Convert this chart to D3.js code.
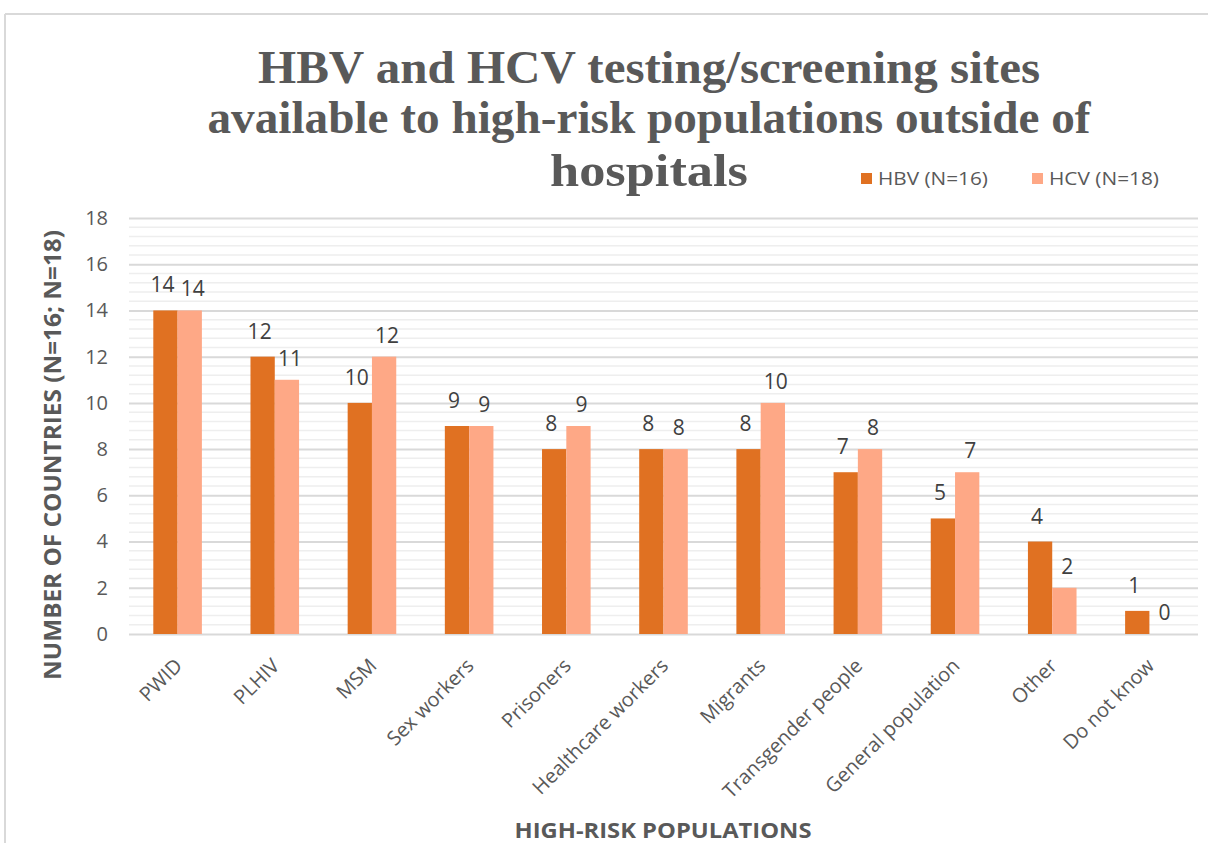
<!DOCTYPE html>
<head>
<meta charset="utf-8">
<title>HBV and HCV testing sites</title>
<script src="https://cdn.jsdelivr.net/npm/d3@7"></script>
<style>
body { margin: 0; background: #fff; }
text { font-family: "Open Sans", sans-serif; }
</style>
</head>
<body>
<script>
// data
var categories = ["PWID", "PLHIV", "MSM", "Sex workers", "Prisoners", "Healthcare workers",
  "Migrants", "Transgender people", "General population", "Other", "Do not know"];
var seriesNames = ["HBV (N=16)", "HCV (N=18)"];
var hbv = [14, 12, 10, 9, 8, 8, 8, 7, 5, 4, 1];
var hcv = [14, 11, 12, 9, 9, 8, 10, 8, 7, 2, 0];
var yTicks = [0, 2, 4, 6, 8, 10, 12, 14, 16, 18];
var titleLines = ["HBV and HCV testing/screening sites",
  "available to high-risk populations outside of", "hospitals"];

var width = 1208, height = 843;
var colors = ["#e07122", "#fea886"];
var grey = "#595959";

var svg = d3.select("body").append("svg")
  .attr("width", width)
  .attr("height", height);

// chart frame (only top and left edges visible)
svg.append("line").attr("x1", 5).attr("x2", width).attr("y1", 14).attr("y2", 14)
  .attr("stroke", "#d9d9d9").attr("stroke-width", 2);
svg.append("line").attr("x1", 5).attr("x2", 5).attr("y1", 14).attr("y2", height)
  .attr("stroke", "#d9d9d9").attr("stroke-width", 2);

var x0 = d3.scaleBand().domain(categories).range([129, 1198])
  .paddingInner(0.5).paddingOuter(0.25);
var x1 = d3.scaleBand().domain(seriesNames).range([0, x0.bandwidth()]);
var y = d3.scaleLinear().domain([0, 18]).range([634, 218]);

// minor gridlines every 0.4
var minor = d3.range(0, 18.01, 0.4).filter(function(v) { return Math.abs(v / 2 - Math.round(v / 2)) > 0.01; });
svg.append("g").selectAll("line").data(minor).enter().append("line")
  .attr("x1", 129).attr("x2", 1198)
  .attr("y1", function(d) { return y(d); }).attr("y2", function(d) { return y(d); })
  .attr("stroke", "#eeeeee").attr("stroke-width", 1.5);

// major gridlines + tick labels via axis
var yAxis = svg.append("g").attr("transform", "translate(129,0)")
  .call(d3.axisLeft(y).tickValues(yTicks).tickSize(-1069).tickPadding(21));
yAxis.select(".domain").remove();
yAxis.selectAll(".tick line").attr("stroke", "#d9d9d9").attr("stroke-width", 2);
yAxis.selectAll(".tick text").attr("fill", grey).style("font-size", "20px")
  .style("font-family", "'Open Sans', sans-serif");

// bars
var groups = svg.append("g").selectAll("g").data(categories).enter().append("g")
  .attr("transform", function(d) { return "translate(" + x0(d) + ",0)"; });
var series = [hbv, hcv];
groups.selectAll("rect").data(function(d, i) {
    return seriesNames.map(function(s, j) { return {s: s, v: series[j][i], j: j}; });
  }).enter().append("rect")
  .attr("x", function(d) { return x1(d.s); })
  .attr("width", x1.bandwidth())
  .attr("y", function(d) { return y(d.v); })
  .attr("height", function(d) { return y(0) - y(d.v); })
  .attr("fill", function(d) { return colors[d.j]; });

// value labels (nudged apart a little like the original)
groups.selectAll("text.val").data(function(d, i) {
    return seriesNames.map(function(s, j) { return {s: s, v: series[j][i], j: j}; });
  }).enter().append("text").attr("class", "val")
  .attr("x", function(d) { return x1(d.s) + x1.bandwidth() / 2 + (d.j ? 3 : -3); })
  .attr("y", function(d) { return y(d.v) - (d.j ? 14 : 18); })
  .attr("text-anchor", "middle")
  .attr("fill", "#404040").style("font-size", "21px")
  .text(function(d) { return d.v; });

// category labels
svg.append("g").selectAll("text").data(categories).enter().append("text")
  .attr("transform", function(d) {
    return "translate(" + (x0(d) + x0.bandwidth() / 2 + 1) + ",662) rotate(-45)";
  })
  .attr("text-anchor", "end")
  .attr("dy", "0.35em")
  .attr("fill", grey).style("font-size", "20px")
  .text(function(d) { return d; });

// title
var titleY = [83, 133, 186];
var titleW = [782, 883, 198];
svg.append("g").selectAll("text").data(titleLines).enter().append("text")
  .attr("x", 649).attr("y", function(d, i) { return titleY[i]; })
  .attr("text-anchor", "middle")
  .attr("textLength", function(d, i) { return titleW[i]; })
  .attr("lengthAdjust", "spacingAndGlyphs")
  .attr("fill", grey)
  .style("font-family", "'Liberation Serif', serif")
  .style("font-weight", "bold").style("font-size", "46px")
  .text(function(d) { return d; });

// legend
var legendX = [861, 1032];
var legend = svg.append("g").selectAll("g").data(seriesNames).enter().append("g")
  .attr("transform", function(d, i) { return "translate(" + legendX[i] + ",173)"; });
legend.append("rect").attr("width", 11).attr("height", 11)
  .attr("fill", function(d, i) { return colors[i]; });
legend.append("text").attr("x", 17).attr("y", 6).attr("dy", "0.35em")
  .attr("textLength", 110).attr("lengthAdjust", "spacingAndGlyphs")
  .attr("fill", grey).style("font-size", "18px")
  .text(function(d) { return d; });

// axis titles
svg.append("text")
  .attr("transform", "translate(61,455) rotate(-90)")
  .attr("text-anchor", "middle")
  .attr("textLength", 450).attr("lengthAdjust", "spacingAndGlyphs")
  .attr("fill", grey).style("font-size", "23px").style("font-weight", "bold")
  .text("NUMBER OF COUNTRIES (N=16; N=18)");
svg.append("text")
  .attr("x", 663).attr("y", 838)
  .attr("text-anchor", "middle")
  .attr("textLength", 297).attr("lengthAdjust", "spacingAndGlyphs")
  .attr("fill", grey).style("font-size", "22px").style("font-weight", "bold")
  .text("HIGH-RISK POPULATIONS");
</script>
</body>
